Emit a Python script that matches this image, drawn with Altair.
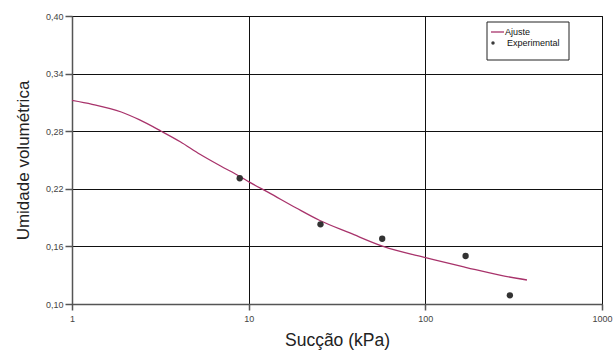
import altair as alt
import pandas as pd

# Fitted curve
fit_x = [1.0, 1.3, 1.9, 2.4, 3.2, 4.1, 5.3, 6.9, 8.9, 10.1, 13.0, 18.6, 25.3, 37.4, 57.7, 101.6, 171, 264, 376]
fit_y = [0.312, 0.308, 0.300, 0.292, 0.280, 0.269, 0.256, 0.244, 0.233, 0.227, 0.216, 0.200, 0.187, 0.174, 0.160, 0.148, 0.138, 0.130, 0.125]

# Experimental points
exp_x = [8.9, 25.5, 57, 169, 301]
exp_y = [0.231, 0.183, 0.168, 0.150, 0.109]

y_ticks = [0.10, 0.16, 0.22, 0.28, 0.34, 0.40]
x_ticks = [1, 10, 100, 1000]

fit_df = pd.DataFrame({"x": fit_x, "y": fit_y})
exp_df = pd.DataFrame({"x": exp_x, "y": exp_y})

FONT = "Liberation Sans"

xs = alt.Scale(type="log", domain=[1, 1000], nice=False)
ys = alt.Scale(domain=[0.10, 0.40], nice=False, zero=False)

x_axis = alt.Axis(
    title="Sucção (kPa)", values=x_ticks, labelExpr="format(datum.value, 'd')",
    grid=True, gridColor="#111111", gridWidth=1, domainColor="#555555", domainWidth=1.5,
    tickColor="#555555", tickSize=6, tickWidth=1.5, labelFontSize=9, labelColor="#444444",
    labelFont=FONT, titleFont=FONT, titleFontSize=17.5, titleFontWeight="normal",
    titleColor="#222222", labelPadding=4, titlePadding=8, labelFlush=False,
)
y_axis = alt.Axis(
    title="Umidade volumétrica", values=y_ticks,
    labelExpr="replace(format(datum.value, '.2f'), '.', ',')",
    grid=True, gridColor="#111111", gridWidth=1, domainColor="#555555", domainWidth=1.5,
    tickColor="#555555", tickSize=7, tickWidth=1.5, labelFontSize=9, labelColor="#444444",
    labelFont=FONT, titleFont=FONT, titleFontSize=17, titleFontWeight="normal",
    titleColor="#222222", labelPadding=2, titlePadding=13,
)

line = alt.Chart(fit_df).mark_line(color="#a8336b", strokeWidth=1.3, interpolate="monotone").encode(
    x=alt.X("x:Q", scale=xs, axis=x_axis),
    y=alt.Y("y:Q", scale=ys, axis=y_axis),
)

pts = alt.Chart(exp_df).mark_circle(color="#333333", size=40, opacity=1).encode(
    x=alt.X("x:Q", scale=xs), y=alt.Y("y:Q", scale=ys)
)

# Legend (manual)
leg_box = alt.Chart(pd.DataFrame({"a": [0]})).mark_rect(
    fill="white", stroke="#222222", strokeWidth=1
).encode(x=alt.value(415), x2=alt.value(497), y=alt.value(6), y2=alt.value(44))
leg_line = alt.Chart(pd.DataFrame({"a": [0]})).mark_rule(color="#a8336b", strokeWidth=1.3).encode(
    x=alt.value(419), x2=alt.value(432), y=alt.value(16)
)
leg_pt = alt.Chart(pd.DataFrame({"a": [0]})).mark_circle(color="#3a3a3a", size=12, opacity=1).encode(
    x=alt.value(421), y=alt.value(27)
)
leg_txt = alt.Chart(pd.DataFrame({"t": ["Ajuste", "Experimental"], "yy": [16, 27], "xx": [433, 435]})).mark_text(
    align="left", baseline="middle", font=FONT, fontSize=9, color="#111111"
).encode(x=alt.X("xx:Q", scale=None), y=alt.Y("yy:Q", scale=None), text="t:N")

chart = alt.layer(line, pts, leg_box, leg_line, leg_pt, leg_txt).properties(
    width=530, height=288,
    autosize=alt.AutoSizeParams(type="none"),
    padding={"left": 72, "top": 16, "right": 14, "bottom": 52},
    background="white",
).configure_view(stroke="#111111", strokeWidth=1)

chart.save("out.html", embed_options={"renderer": "svg", "actions": False})
